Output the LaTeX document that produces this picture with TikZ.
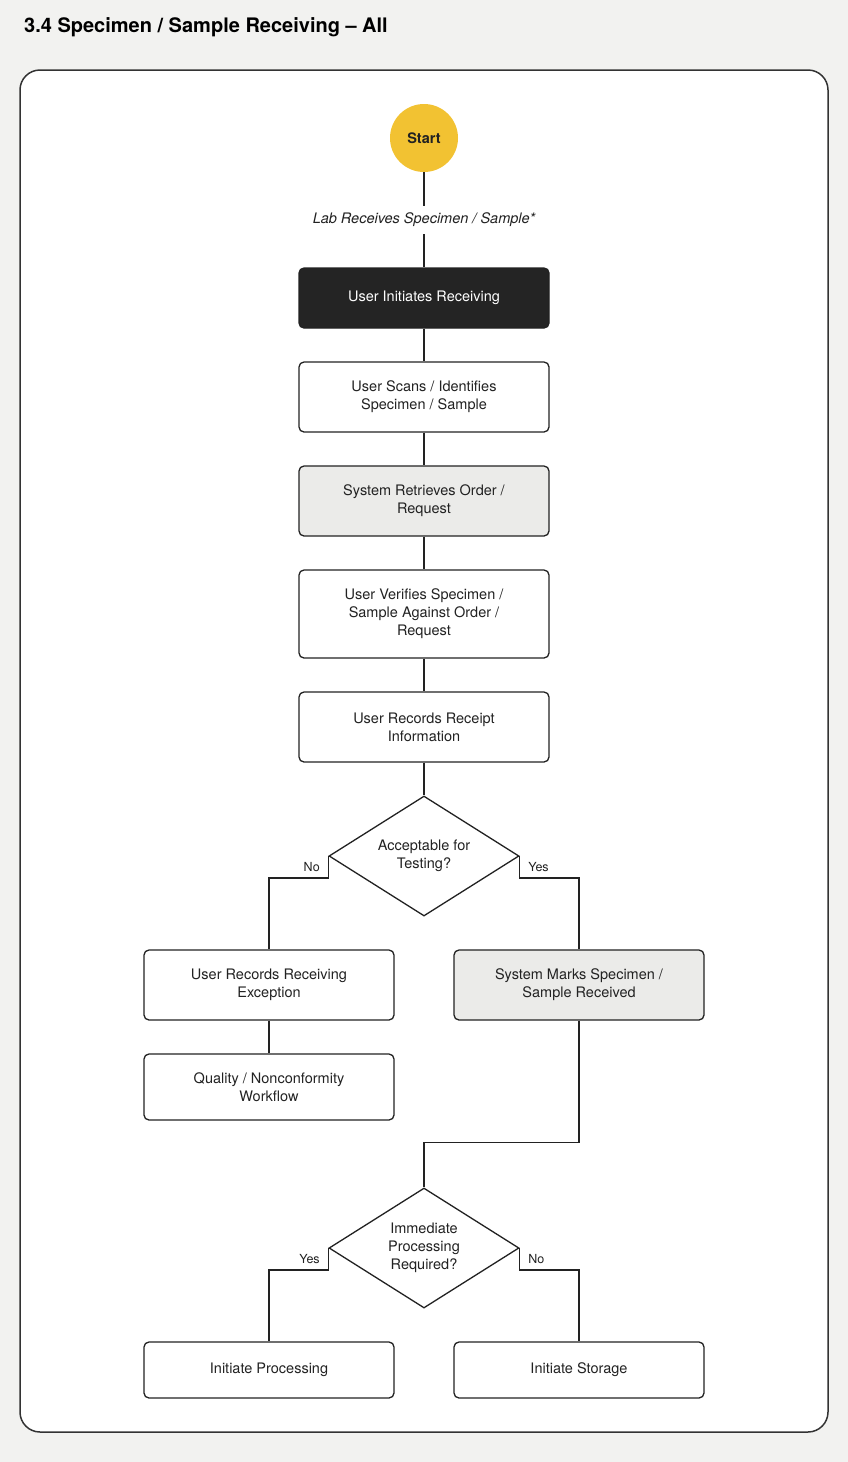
\documentclass[tikz,border=0pt]{standalone}
\usepackage{fontspec}
\setmainfont{TeX Gyre Heros}
\usepackage{tikz}
\usetikzlibrary{shapes.geometric}
\definecolor{pagebg}{HTML}{F2F2F0}
\definecolor{linecol}{HTML}{222222}
\definecolor{framecol}{HTML}{333333}
\definecolor{startyellow}{HTML}{F2C232}
\definecolor{boxdark}{HTML}{242424}
\definecolor{boxgrey}{HTML}{EBEBE9}

\begin{document}
\begin{tikzpicture}[x=1pt,y=-1pt,
			every node/.style={font=\fontsize{14.5}{18}\selectfont,align=center,text=linecol},
			box/.style={draw=linecol,line width=1.3pt,rounded corners=5pt,fill=white,minimum width=250pt,inner sep=0pt},
			darkbox/.style={box,fill=boxdark,text=white},
			greybox/.style={box,fill=boxgrey},
			decision/.style={diamond,draw=linecol,line width=1.3pt,fill=white,aspect=1.583,minimum width=190pt,minimum height=120pt,inner sep=0pt},
			branch/.style={font=\fontsize{12.5}{14}\selectfont},
			link/.style={draw=linecol,line width=1.3pt}]
	% page and frame
	\fill[pagebg] (0,0) rectangle (848,1462);
	\draw[framecol,line width=1.5pt,fill=white,rounded corners=20pt] (20,70) rectangle (828,1432);
	\node[anchor=base west,inner sep=0pt,font=\fontsize{20}{24}\selectfont\bfseries,text=black] (title) at (24,32) {3.4 Specimen / Sample Receiving -- All};

	% main column
	\node[circle,fill=startyellow,minimum size=68pt,inner sep=0pt,font=\fontsize{14.5}{18}\selectfont\bfseries] (start) at (424,138) {Start};
	\node[minimum height=28pt,inner sep=0pt,font=\fontsize{14.5}{18}\selectfont\itshape] (recv) at (424,220) {Lab Receives Specimen / Sample*};
	\node[darkbox,minimum height=60pt] (init) at (424,298) {User Initiates Receiving};
	\node[box,minimum height=70pt] (scan) at (424,397) {User Scans / Identifies\\Specimen / Sample};
	\node[greybox,minimum height=70pt] (retrieve) at (424,501) {System Retrieves Order /\\Request};
	\node[box,minimum height=88pt] (verify) at (424,614) {User Verifies Specimen /\\Sample Against Order /\\Request};
	\node[box,minimum height=70pt] (record) at (424,727) {User Records Receipt\\Information};
	\node[decision] (accept) at (424,856) {Acceptable for\\Testing?};

	% branches
	\node[box,minimum height=70pt] (exception) at (269,985) {User Records Receiving\\Exception};
	\node[box,minimum height=66pt] (quality) at (269,1087) {Quality / Nonconformity\\Workflow};
	\node[greybox,minimum height=70pt] (marks) at (579,985) {System Marks Specimen /\\Sample Received};
	\node[decision] (immediate) at (424,1248) {Immediate\\Processing\\Required?};
	\node[box,minimum height=56pt] (process) at (269,1370) {Initiate Processing};
	\node[box,minimum height=56pt] (storage) at (579,1370) {Initiate Storage};

	% connectors
	\draw[link] (start) -- (recv) -- (init);
	\draw[link] (init) -- (scan);
	\draw[link] (scan) -- (retrieve);
	\draw[link] (retrieve) -- (verify);
	\draw[link] (verify) -- (record);
	\draw[link] (record) -- (accept);
	\draw[link] (accept.west) -- node[branch,left,inner sep=8pt]{No} ++(0,22) -| (exception.north);
	\draw[link] (accept.east) -- node[branch,right,inner sep=8pt]{Yes} ++(0,22) -| (marks.north);
	\draw[link] (exception) -- (quality);
	\draw[link] (marks.south) -- ++(0,122) -| (immediate.north);
	\draw[link] (immediate.west) -- node[branch,left,inner sep=8pt]{Yes} ++(0,22) -| (process.north);
	\draw[link] (immediate.east) -- node[branch,right,inner sep=8pt]{No} ++(0,22) -| (storage.north);
\end{tikzpicture}
\end{document}
